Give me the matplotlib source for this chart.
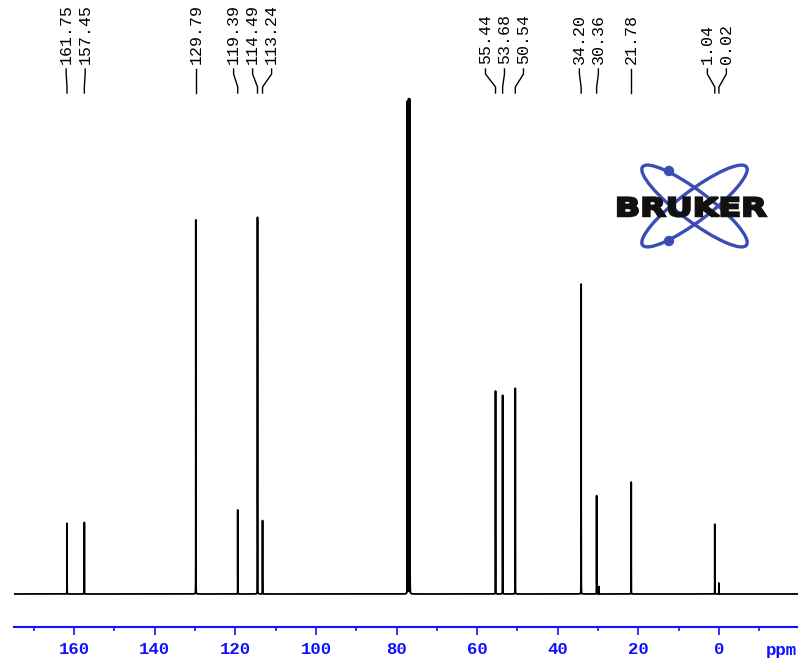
import numpy as np
import matplotlib
matplotlib.use("Agg")
import matplotlib.pyplot as plt
from matplotlib.patches import Ellipse, Circle, PathPatch
from matplotlib.textpath import TextPath
from matplotlib.font_manager import FontProperties
from matplotlib.transforms import Affine2D, blended_transform_factory
from matplotlib.ticker import MultipleLocator

# peak list (ppm) and relative heights (CDCl3 triplet = 100)
shifts = [161.75, 157.45, 129.79, 119.39, 114.49, 113.24,
          77.32, 77.00, 76.68,
          55.44, 53.68, 50.54, 34.20, 30.36, 29.80, 21.78, 1.04, 0.02]
heights = [14.3, 14.7, 75.6, 17.0, 76.6, 14.9,
           100.0, 100.0, 100.0,
           41.6, 40.6, 41.6, 62.6, 20.0, 1.5, 22.6, 14.1, 2.2]

# labelled peaks
label_shifts = [161.75, 157.45, 129.79, 119.39, 114.49, 113.24,
                55.44, 53.68, 50.54, 34.20, 30.36, 21.78, 1.04, 0.02]

W, H = 798, 660
fig = plt.figure(figsize=(W / 100, H / 100), dpi=100)
ax = fig.add_axes([14 / W, 33 / H, 784 / W, 627 / H])

# spectrum built from narrow lorentzian lines
ppm = np.linspace(176, -21, 90000)
spec = np.zeros_like(ppm)
hw = 0.008
for s, h in zip(shifts, heights):
    spec += h * hw**2 / ((ppm - s) ** 2 + hw**2)
ax.plot(ppm, spec, color="black", lw=1.3)

ax.set_xlim(174.9, -19.6)
ax.set_ylim(-6.67, 120.0)

blue = "#1010ff"
for sp in ["top", "left", "right"]:
    ax.spines[sp].set_visible(False)
ax.spines["bottom"].set_color(blue)
ax.spines["bottom"].set_linewidth(1.5)
ax.set_yticks([])
ax.xaxis.set_major_locator(MultipleLocator(20))
ax.xaxis.set_minor_locator(MultipleLocator(10))
ax.tick_params(axis="x", which="major", colors=blue, length=6, width=1.2,
               labelsize=12.5, pad=5)
ax.tick_params(axis="x", which="minor", colors=blue, length=3, width=1.2)
for lab in ax.get_xticklabels():
    lab.set_family("Liberation Mono")
    lab.set_weight("bold")
ax.text(781 / W, 1 - 650 / H, "ppm", transform=fig.transFigure, color=blue,
        fontsize=12.5, family="Liberation Mono", weight="bold",
        ha="center", va="center")

# spread labels so they do not overlap
px_per_ppm = 784 / (174.9 + 19.6)
gap = 19 / px_per_ppm
clusters = [[s] for s in sorted(label_shifts, reverse=True)]

def cluster_pos(c):
    m = np.mean(c)
    n = len(c)
    return [m + gap * ((n - 1) / 2 - i) for i in range(n)]

changed = True
while changed:
    changed = False
    for i in range(len(clusters) - 1):
        a = cluster_pos(clusters[i])
        b = cluster_pos(clusters[i + 1])
        if a[-1] - b[0] < gap:
            clusters[i] = clusters[i] + clusters[i + 1]
            del clusters[i + 1]
            changed = True
            break

trans = blended_transform_factory(ax.transData, fig.transFigure)
def fy(ypx):
    return 1 - ypx / H

for c in clusters:
    for s, lx in zip(c, cluster_pos(c)):
        ax.text(lx, fy(64), f"{s:.2f}", transform=trans, rotation=90,
                ha="center", va="bottom", fontsize=12,
                family="Liberation Mono", clip_on=False)
        ax.plot([lx, lx, s, s], [fy(69), fy(74), fy(87), fy(93)],
                transform=trans, color="black", lw=1.0, clip_on=False)

# Bruker logo
lg = fig.add_axes([600 / W, 1 - 260 / H, 180 / W, 110 / H])
lg.set_xlim(600, 780)
lg.set_ylim(260, 150)
lg.axis("off")
logo_blue = "#3b4cb4"
for ang in [37, -37]:
    lg.add_patch(Ellipse((694.5, 206), 130, 30, angle=ang, fill=False,
                         ec=logo_blue, lw=2.4))
for cy in [171, 241]:
    lg.add_patch(Circle((669, cy), 4.5, color=logo_blue))
tp = TextPath((0, 0), "BRUKER", size=1,
              prop=FontProperties(family="DejaVu Sans", weight="bold"))
ext = tp.get_extents()
sx = 148 / ext.width
sy = 19 / ext.height
tr = (Affine2D().translate(-ext.x0, -ext.y0).scale(sx, -sy)
      .translate(618, 216.5))
lg.add_patch(PathPatch(tr.transform_path(tp), fc="#111111", ec="#111111",
                       lw=1.6, zorder=5))

fig.savefig("out.png", dpi=100)
